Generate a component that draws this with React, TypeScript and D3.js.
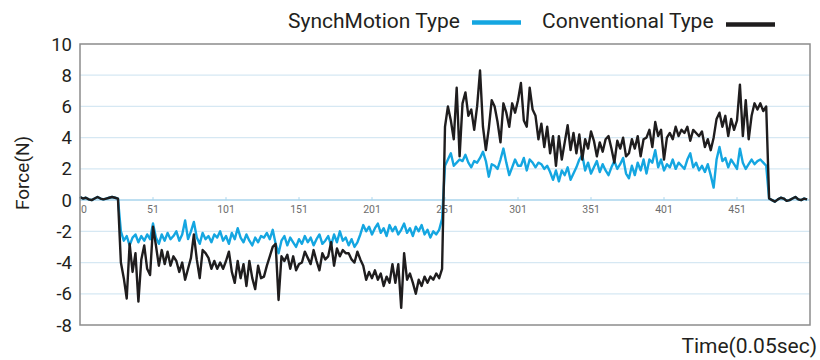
import React from "react";
import * as d3 from "d3";

// ---- data (sampled every 2 time steps, time = 1, 3, 5, ... 499) ----
const conventional: number[] = [
  0.2, 0.1, 0.15, 0.05, 0.0, 0.1, 0.2, 0.1, 0.05, 0.1, 0.15, 0.2, 0.15, 0.1,
  -4.0, -5.0, -6.3, -2.8, -4.6, -3.4, -6.5, -3.8, -2.9, -4.4, -4.8, -1.7, -2.9, -4.2, -3.2, -4.1,
  -3.3, -4.2, -3.6, -3.9, -4.6, -4.0, -5.1, -4.4, -3.7, -2.2, -3.8, -5.0, -3.2, -3.4, -3.7, -4.4,
  -3.9, -4.4, -4.0, -4.4, -3.9, -3.3, -4.6, -5.3, -3.9, -5.0, -4.1, -5.5, -3.9, -5.0, -5.7, -4.2,
  -5.0, -4.9, -4.2, -3.6, -3.0, -2.8, -6.4, -3.6, -3.9, -3.5, -4.4, -3.6, -4.5, -4.1, -4.0, -3.3,
  -3.7, -4.1, -3.2, -3.9, -4.5, -3.4, -3.8, -3.6, -2.7, -4.2, -3.1, -3.6, -3.2, -3.4, -3.4, -3.8,
  -4.0, -3.3, -3.8, -4.2, -5.1, -4.6, -5.0, -4.5, -5.1, -4.7, -5.5, -4.9, -5.3, -4.1, -5.3, -4.1,
  -6.9, -3.4, -5.1, -4.7, -5.3, -6.0, -5.1, -5.5, -4.9, -5.3, -4.9, -5.1, -4.7, -5.0, -4.4,
  4.7, 6.0, 5.1, 3.9, 7.2, 2.8, 6.2, 6.9, 5.4, 5.8, 4.5, 6.0, 8.3, 4.7, 3.2, 4.6,
  6.4, 6.0, 5.0, 3.7, 6.2, 5.6, 4.7, 6.2, 5.6, 6.4, 7.5, 5.1, 4.7, 7.2, 5.8, 5.4,
  3.9, 4.9, 3.4, 4.7, 3.0, 4.1, 2.2, 4.1, 2.6, 3.7, 4.8, 3.2, 4.3, 3.0, 4.2, 2.6,
  3.9, 3.3, 4.4, 3.8, 2.8, 3.7, 3.1, 3.9, 4.1, 3.3, 2.4, 3.8, 3.3, 4.0, 2.8,
  3.0, 3.9, 3.3, 4.1, 2.8, 3.9, 4.0, 4.5, 3.4, 5.0, 4.1, 4.5, 2.6, 4.0, 4.3, 3.9,
  4.7, 4.1, 4.5, 4.3, 4.7, 3.8, 4.5, 4.3, 4.1, 4.4, 3.4, 3.9, 3.2, 4.0, 5.2, 5.6,
  4.7, 5.4, 4.1, 5.2, 4.5, 5.1, 7.4, 4.1, 6.4, 3.9, 5.4, 6.2, 5.8, 6.2, 5.7, 6.0,
  0.1, 0.0, -0.1, 0.05, 0.15, 0.1, -0.05, 0.0, 0.1, 0.2, 0.05, 0.0, 0.1, 0.05,
];

const synchMotion: number[] = [
  0.2, 0.1, 0.15, 0.05, 0.0, 0.1, 0.2, 0.1, 0.05, 0.1, 0.15, 0.2, 0.15, 0.1,
  -2.0, -2.6, -2.3, -2.9, -2.4, -2.2, -2.7, -2.3, -2.6, -2.2, -2.5, -1.5, -2.4, -2.8, -2.2, -2.6,
  -2.1, -2.5, -2.3, -2.0, -2.6, -2.2, -1.3, -2.5, -2.0, -1.4, -2.4, -2.8, -2.1, -2.5, -2.3, -2.7,
  -2.2, -2.4, -2.0, -2.6, -2.3, -2.8, -2.1, -2.5, -1.8, -2.4, -2.7, -2.2, -2.6, -2.9, -2.4, -2.7,
  -2.3, -2.4, -2.1, -2.5, -1.9, -2.8, -3.4, -2.6, -2.3, -2.9, -2.4, -2.7, -3.0, -2.5, -2.8, -2.3,
  -2.7, -2.4, -2.9, -2.5, -2.2, -2.8, -2.6, -2.3, -2.9, -2.2, -2.7, -2.0, -2.6, -2.4, -2.9, -2.5,
  -3.0, -2.7, -2.2, -1.6, -2.0, -1.7, -2.2, -1.8, -1.5, -2.1, -1.8, -2.3, -1.6, -2.0, -1.7, -2.2,
  -1.9, -1.5, -2.1, -1.8, -2.3, -1.7, -2.0, -1.6, -2.2, -1.9, -2.4, -2.0, -2.2, -1.9, -1.2,
  2.2, 2.6, 3.0, 2.2, 2.4, 2.6, 2.5, 2.9, 2.4, 2.1, 2.5, 2.4, 2.7, 3.1, 2.5, 1.5,
  2.3, 2.2, 2.0, 2.6, 3.3, 2.4, 1.6, 2.1, 2.6, 2.2, 2.2, 2.7, 1.9, 2.6, 2.4, 2.1,
  2.4, 2.3, 2.0, 2.2, 1.8, 1.3, 1.9, 1.2, 1.9, 1.6, 2.1, 1.3, 1.7, 2.1, 2.6, 2.9,
  1.9, 2.4, 1.7, 2.1, 2.5, 1.8, 2.3, 1.9, 1.6, 2.1, 2.5, 2.0, 2.3, 2.7, 1.7,
  1.4, 2.2, 1.6, 2.4, 1.9, 2.6, 1.7, 2.6, 2.4, 3.2, 2.1, 2.6, 1.9, 2.3, 2.1, 2.6,
  2.0, 2.4, 2.2, 2.0, 2.6, 3.0, 2.1, 2.4, 1.9, 2.2, 1.8, 2.3, 1.6, 0.8, 2.6, 3.4,
  2.5, 2.7, 2.1, 2.6, 2.3, 2.0, 3.3, 2.4, 2.0, 2.3, 2.6, 2.3, 2.5, 2.6, 2.4, 2.2,
  0.1, 0.0, -0.1, 0.05, 0.15, 0.1, -0.05, 0.0, 0.1, 0.2, 0.05, 0.0, 0.1, 0.05,
];

const time: number[] = conventional.map((_, i) => 1 + i * 2);

const yTicks: number[] = [10, 8, 6, 4, 2, 0, -2, -4, -6, -8];
const xTickValues: number[] = [1, 51, 101, 151, 201, 251, 301, 351, 401, 451];
const xTickLabels: string[] = ["0", "51", "101", "151", "201", "251", "301", "351", "401", "451"];

const seriesNames = ["SynchMotion Type", "Conventional Type"];
const seriesColors = ["#14a6e1", "#1f1d1e"];

const FONT = "Roboto, 'DejaVu Sans', sans-serif";

export default function App() {
  const W = 820;
  const H = 360;
  const left = 80, right = 810, top = 44, bottom = 325;

  const x = d3.scaleLinear().domain([1, 501]).range([left, right]);
  const y = d3.scaleLinear().domain([-8, 10]).range([bottom, top]);

  const line = d3
    .line<number>()
    .x((_, i) => x(time[i]))
    .y((d) => y(d));

  return (
    <svg
      width={W}
      height={H}
      style={{ position: "absolute", left: 0, top: 0, background: "#fff" }}
      fontFamily={FONT}
    >
      {/* grid */}
      {yTicks
        .filter((t) => t !== 0 && t !== 10 && t !== -8)
        .map((t) => (
          <line key={t} x1={left} x2={right} y1={y(t)} y2={y(t)} stroke="#d6e8f3" strokeWidth={1.2} />
        ))}
      {/* zero axis */}
      <line x1={left} x2={right} y1={y(0)} y2={y(0)} stroke="#a9d5ec" strokeWidth={1.5} />
      {xTickValues.map((t, i) => (
        <g key={t}>
          <line x1={x(t)} x2={x(t)} y1={y(0)} y2={y(0) - 3} stroke="#a9d5ec" strokeWidth={1} />
          <text
            x={i === 0 ? x(t) + 1 : x(t)}
            y={y(0) + 13}
            fontSize={10.5}
            fill="#6d6d6d"
            textAnchor={i === 0 ? "start" : "middle"}
          >
            {xTickLabels[i]}
          </text>
        </g>
      ))}

      {/* series */}
      <path d={line(synchMotion) || ""} fill="none" stroke={seriesColors[0]} strokeWidth={2.4} strokeLinejoin="round" />
      <path d={line(conventional) || ""} fill="none" stroke={seriesColors[1]} strokeWidth={2.4} strokeLinejoin="round" />

      {/* frame */}
      <rect x={left} y={top} width={right - left} height={bottom - top} fill="none" stroke="#8c8c8c" strokeWidth={1.5} />

      {/* y tick labels */}
      {yTicks.map((t) => (
        <text key={t} x={72} y={y(t) + 6.5} fontSize={18.5} fill="#231f20" textAnchor="end">
          {t}
        </text>
      ))}

      {/* y title */}
      <text
        transform={`translate(29, ${173}) rotate(-90)`}
        fontSize={19}
        fill="#231f20"
        textAnchor="middle"
      >
        Force(N)
      </text>

      {/* x title */}
      <text x={817} y={353} fontSize={21} fill="#231f20" textAnchor="end">
        Time(0.05sec)
      </text>

      {/* legend */}
      <text x={288} y={28} fontSize={21} fill="#231f20">{seriesNames[0]}</text>
      <line x1={472} x2={521} y1={22.5} y2={22.5} stroke={seriesColors[0]} strokeWidth={4.5} />
      <text x={542} y={28} fontSize={21} fill="#231f20">{seriesNames[1]}</text>
      <line x1={726} x2={775} y1={24.5} y2={24.5} stroke={seriesColors[1]} strokeWidth={4.5} />
    </svg>
  );
}
